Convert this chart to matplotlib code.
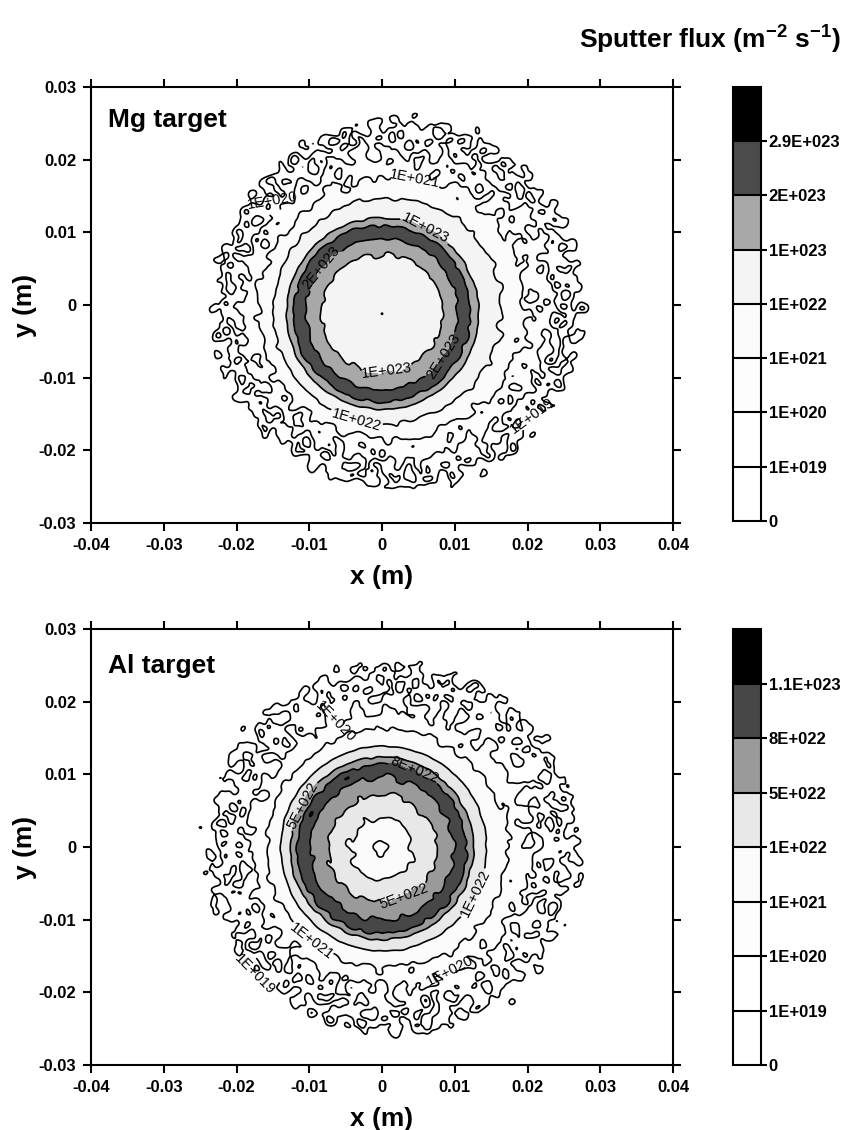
import numpy as np
import matplotlib
matplotlib.use('Agg')
import matplotlib.pyplot as plt
from matplotlib import font_manager
from matplotlib.ticker import MultipleLocator, FuncFormatter

# fonts: condensed bold for axis titles, Arial-like bold elsewhere
names = {f.name for f in font_manager.fontManager.ttflist}
narrow = 'Liberation Sans Narrow' if 'Liberation Sans Narrow' in names else 'Liberation Sans'
plt.rcParams['font.family'] = ['Liberation Sans', 'DejaVu Sans']
plt.rcParams['font.weight'] = 'bold'
plt.rcParams['mathtext.fontset'] = 'custom'
plt.rcParams['mathtext.rm'] = narrow
plt.rcParams['mathtext.bf'] = narrow + ':bold'

# ---- radial flux profiles (log10 of flux, m^-2 s^-1)
mg_r = [0.0, 0.0003, 0.003, 0.0083, 0.0104, 0.0113, 0.0122, 0.0132, 0.0155, 0.0180, 0.0213, 0.0250, 0.0275, 0.0300]
mg_logf = [21.95, 22.1, 22.7, 23.0, 23.301, 23.40, 23.301, 23.0, 22.0, 21.0, 20.0, 19.0, 17.0, 15.0]
mg_center_in = (0.0, -0.0012)
mg_center_out = (0.0022, 0.0001)

al_r = [0.0, 0.0010, 0.0042, 0.0073, 0.0098, 0.0108, 0.0117, 0.0126, 0.0141, 0.0164, 0.0190, 0.0250, 0.0275, 0.0300]
al_logf = [20.8, 21.0, 22.0, 22.699, 22.903, 23.0, 22.903, 22.699, 22.0, 21.0, 20.0, 19.0, 17.0, 15.0]
al_center_in = (0.0, -0.0002)
al_center_out = (0.0016, -0.0002)

# scatter of the Monte Carlo result vs radius (decades)
amp_r = [0.0, 0.005, 0.008, 0.0145, 0.0170, 0.0200, 0.0230, 0.0270, 0.0300]
mg_amp = [0.015, 0.015, 0.015, 0.02, 0.13, 0.36, 0.50, 0.50, 0.10]
al_amp = [0.06, 0.08, 0.02, 0.02, 0.13, 0.36, 0.50, 0.50, 0.10]

# hand-picked wave components for the rough texture (wavelength in mm)
wave_angle = [7, 31, 52, 78, 97, 121, 143, 166, 12, 63, 109, 157, 24, 88, 134, 171,
              41, 103, 152, 17, 69, 128]
wave_len = [2.3, 3.1, 2.6, 3.7, 2.1, 2.9, 3.4, 2.4, 4.2, 2.2, 3.0, 2.7, 1.9, 3.3, 2.5, 3.8,
            1.3, 1.5, 1.2, 1.6, 1.4, 1.35]
wave_amp = [1, 1, 1, 1, 1, 1, 1, 1, 1, 1, 1, 1, 1, 1, 1, 1,
            0.45, 0.45, 0.45, 0.45, 0.45, 0.45]
mg_phase = [0.3, 1.9, 4.1, 2.7, 5.2, 0.9, 3.6, 1.4, 4.8, 2.2, 0.1, 5.9, 3.1, 1.1, 4.4, 2.9,
            1.7, 3.3, 0.5, 4.9, 2.4, 5.6]
al_phase = [2.6, 5.1, 0.7, 3.9, 1.8, 4.6, 0.2, 2.9, 5.5, 1.3, 3.4, 0.8, 4.2, 2.1, 5.8, 1.6,
            0.4, 2.8, 4.7, 1.2, 3.8, 5.3]

# ---- contour levels, colours and colourbar labels
mg_levels = [0, 1e19, 1e20, 1e21, 1e22, 1e23, 2e23, 2.9e23, 1e24]
mg_colors = ['#ffffff', '#ffffff', '#fdfdfd', '#fbfbfb', '#f4f4f4', '#a8a8a8', '#4b4b4b', '#000000']
mg_ticklabels = ['0', '1E+019', '1E+020', '1E+021', '1E+022', '1E+023', '2E+023', '2.9E+023']

al_levels = [0, 1e19, 1e20, 1e21, 1e22, 5e22, 8e22, 1.1e23, 1e24]
al_colors = ['#ffffff', '#ffffff', '#fdfdfd', '#fbfbfb', '#e8e8e8', '#9a9a9a', '#474747', '#000000']
al_ticklabels = ['0', '1E+019', '1E+020', '1E+021', '1E+022', '5E+022', '8E+022', '1.1E+023']

# contour label texts and spots
mg_clabels = [(1e20, '1E+020', (-0.0148, 0.0148)), (1e21, '1E+021', (0.0044, 0.0161)),
              (1e23, '1E+023', (0.0061, 0.0108)), (2e23, '2E+023', (-0.0082, 0.0049)),
              (1e23, '1E+023', (0.0000, -0.0070)), (2e23, '2E+023', (0.0086, -0.0072)),
              (1e22, '1E+022', (-0.0031, -0.0146)), (1e19, '1E+019', (0.0200, -0.0148))]
al_clabels = [(1e20, '1E+020', (-0.0063, 0.0171)), (8e22, '8E+022', (0.0042, 0.0102)),
              (5e22, '5E+022', (-0.0104, 0.0055)), (5e22, '5E+022', (0.0033, -0.0072)),
              (1e22, '1E+022', (0.0124, -0.0063)), (1e21, '1E+021', (-0.0096, -0.0127)),
              (1e20, '1E+020', (0.0092, -0.0151)), (1e19, '1E+019', (-0.0175, -0.0173))]

xg = np.linspace(-0.04, 0.04, 801)
yg = np.linspace(-0.03, 0.03, 601)
X, Y = np.meshgrid(xg, yg)


def texture(phases):
    t = np.zeros_like(X)
    for a, lam, amp, ph in zip(wave_angle, wave_len, wave_amp, phases):
        k = 2 * np.pi / (lam * 1e-3)
        th = np.radians(a)
        t += amp * np.cos(k * (X * np.cos(th) + Y * np.sin(th)) + ph)
    return t / np.sqrt(np.sum(np.square(wave_amp)) / 2)


def flux_field(r_pts, logf_pts, amp_pts, c_in, c_out, phases):
    r_in = np.hypot(X - c_in[0], Y - c_in[1])
    r_out = np.hypot(X - c_out[0], Y - c_out[1])
    w = np.clip((r_in - 0.013) / 0.008, 0, 1)
    r = (1 - w) * r_in + w * r_out
    logf = np.interp(r, r_pts, logf_pts) + np.interp(r, amp_r, amp_pts) * texture(phases)
    return 10 ** logf


fig = plt.figure(figsize=(8.43, 11.3), dpi=100)
tick_fmt = FuncFormatter(lambda v, p: '0' if abs(v) < 1e-9 else f'{v:g}')

panels = [
    ([0.108, 0.5372, 0.6904, 0.3858], [0.8695, 0.5390, 0.0332, 0.3840], 'Mg target', 0.925,
     flux_field(mg_r, mg_logf, mg_amp, mg_center_in, mg_center_out, mg_phase),
     mg_levels, mg_colors, mg_ticklabels, mg_clabels),
    ([0.108, 0.0575, 0.6904, 0.3858], [0.8695, 0.0575, 0.0332, 0.3858], 'Al target', 0.915,
     flux_field(al_r, al_logf, al_amp, al_center_in, al_center_out, al_phase),
     al_levels, al_colors, al_ticklabels, al_clabels),
]

for rect, crect, name, name_y, Z, levels, colors, ticklabels, clabs in panels:
    ax = fig.add_axes(rect)
    cf = ax.contourf(X, Y, Z, levels=levels, colors=colors)
    # one contour set per level so each level can carry its own labels
    for lev in levels[1:-1]:
        cs = ax.contour(X, Y, Z, levels=[lev], colors='black', linewidths=1.2)
        spots = [pos for l, txt, pos in clabs if l == lev]
        txts = [txt for l, txt, pos in clabs if l == lev]
        if spots:
            texts = ax.clabel(cs, fmt={lev: txts[0]}, manual=spots,
                              inline=True, inline_spacing=2, fontsize=10.5)
            for t in texts:
                t.set_fontweight('normal')

    ax.set_xlim(-0.04, 0.04)
    ax.set_ylim(-0.03, 0.03)
    ax.xaxis.set_major_locator(MultipleLocator(0.01))
    ax.yaxis.set_major_locator(MultipleLocator(0.01))
    ax.xaxis.set_major_formatter(tick_fmt)
    ax.yaxis.set_major_formatter(tick_fmt)
    ax.tick_params(direction='out', length=6, width=1.5, top=True, right=True,
                   labelsize=12, pad=4.5)
    for s in ax.spines.values():
        s.set_linewidth(1.5)
    ax.set_xlabel('x (m)', fontsize=19, fontfamily=narrow, fontweight='bold', labelpad=9)
    ax.set_ylabel('y (m)', fontsize=19, fontfamily=narrow, fontweight='bold', labelpad=1)
    ax.text(0.029, name_y, name, transform=ax.transAxes, fontsize=19, va='center', ha='left')

    cax = fig.add_axes(crect)
    cb = fig.colorbar(cf, cax=cax, ticks=levels[:-1], drawedges=True)
    cb.ax.set_yticklabels(ticklabels)
    cb.outline.set_linewidth(1.5)
    cb.dividers.set_linewidth(1.5)
    cb.dividers.set_color('black')
    cb.ax.tick_params(direction='out', length=4, width=1.5, labelsize=12, pad=1.5)

fig.text(0.997, 0.966, r'Sputter flux (m$^{\mathbf{-2}}$ s$^{\mathbf{-1}}$)',
         ha='right', va='center', fontsize=19, fontfamily=narrow, fontweight='bold')

fig.savefig('out.png', dpi=100)
